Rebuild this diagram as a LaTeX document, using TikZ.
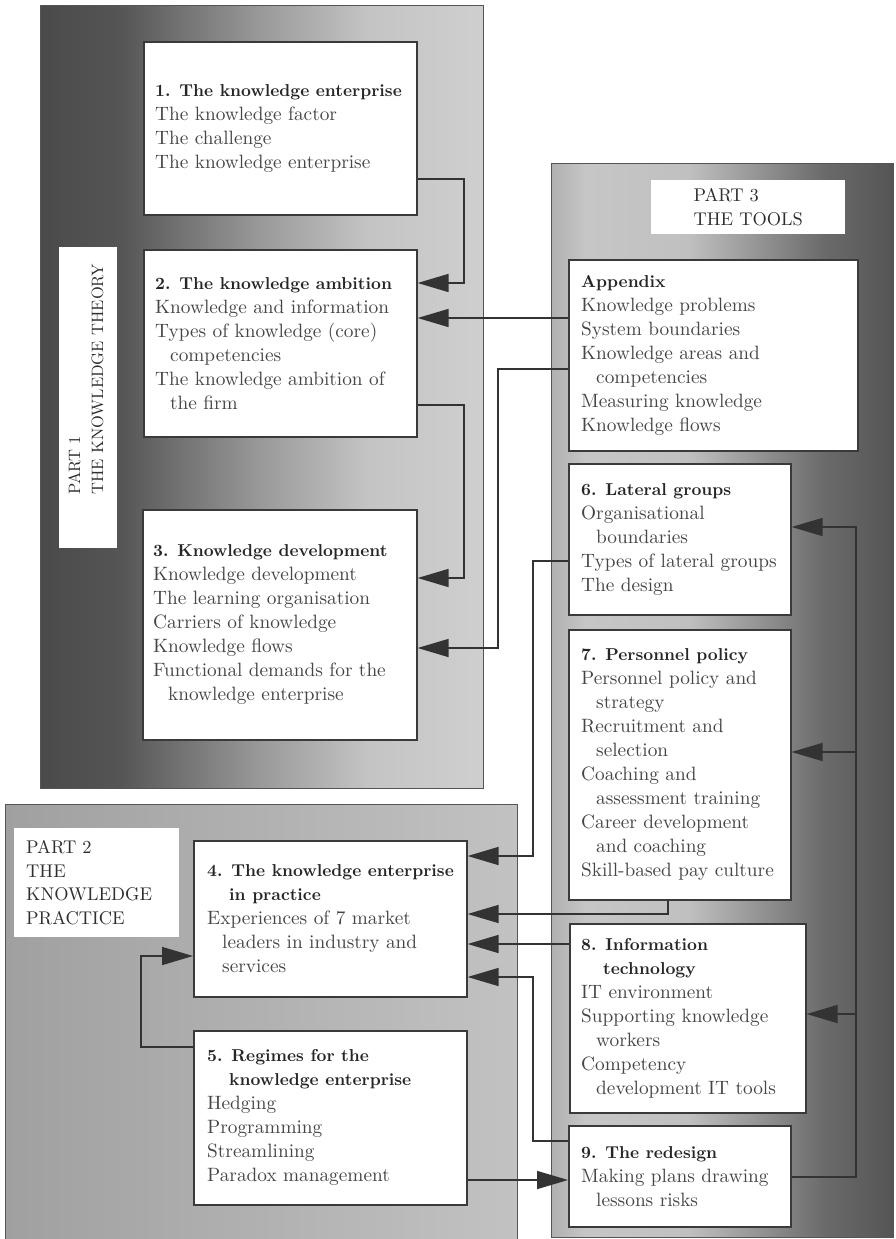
\documentclass[tikz,border=0pt]{standalone}
\usepackage{fontspec}
\setmainfont{lmroman10-regular.otf}[BoldFont=lmroman10-bold.otf]
\usetikzlibrary{arrows.meta}
\definecolor{boxc}{HTML}{3A3A3A}
\definecolor{connc}{HTML}{333333}
\definecolor{bodyc}{HTML}{454545}
\definecolor{titlec}{HTML}{262626}
\definecolor{lblc}{HTML}{2E2E2E}
\definecolor{panelc}{HTML}{555555}
\definecolor{pAa}{HTML}{4A4A4A}
\definecolor{pAb}{HTML}{555555}
\definecolor{pAc}{HTML}{9A9A9A}
\definecolor{pAd}{HTML}{C4C4C4}
\definecolor{pAe}{HTML}{CFCFCF}
\definecolor{pCa}{HTML}{B0B0B0}
\definecolor{pCb}{HTML}{C6C6C6}
\definecolor{pCc}{HTML}{C0C0C0}
\definecolor{pCd}{HTML}{959595}
\definecolor{pCe}{HTML}{6A6A6A}
\definecolor{pCf}{HTML}{555555}
\definecolor{pBa}{HTML}{A0A0A0}
\definecolor{pBb}{HTML}{C2C2C2}
\pgfdeclarehorizontalshading{partone}{100bp}{color(0bp)=(pAa); color(25bp)=(pAa); color(34bp)=(pAb); color(50bp)=(pAc); color(62bp)=(pAd); color(75bp)=(pAe); color(100bp)=(pAe)}
\pgfdeclarehorizontalshading{partthree}{100bp}{color(0bp)=(pCa); color(25bp)=(pCa); color(30bp)=(pCb); color(45bp)=(pCc); color(55bp)=(pCd); color(65bp)=(pCe); color(75bp)=(pCf); color(100bp)=(pCf)}
\newcommand\ktitle[1]{{\bfseries\fontsize{17.2}{24}\selectfont\color{titlec}#1}}
\newcommand\kin{\hspace*{15pt}}
\tikzset{
  panel/.style={draw=panelc, line width=0.8pt, anchor=north west, inner sep=0pt},
  kbox/.style={draw=boxc, line width=1.6pt, fill=white, anchor=north west, inner sep=0pt},
  ktxt/.style={anchor=west, align=left, inner sep=0pt, text=bodyc, font=\fontsize{19.3}{24}\selectfont},
  lblbox/.style={fill=white, anchor=north west, text=lblc, font=\fontsize{18.4}{23.5}\selectfont},
  conn/.style={draw=connc, line width=1.5pt, -{Triangle[length=31pt,width=18pt]}},
  bus/.style={draw=connc, line width=1.5pt}
}
\begin{document}
\begin{tikzpicture}[x=1pt,y=1pt]
\useasboundingbox (0,0) rectangle (895,-1239);
\fill[white] (0,0) rectangle (895,-1239);
% panels
\node[panel, shade, shading=partone, minimum width=443pt, minimum height=783pt] (part1) at (40,-5) {};
\node[panel, left color=pBa, right color=pBb, minimum width=512pt, minimum height=435pt] (part2) at (5,-804) {};
\node[panel, shade, shading=partthree, minimum width=342pt, minimum height=1074pt] (part3) at (551,-163) {};
% labels
\node[lblbox, minimum width=58pt, minimum height=301pt] (l1) at (59,-247) {};
\node[anchor=west, align=left, rotate=90, inner sep=0pt, text=lblc, font=\fontsize{16.5}{23}\selectfont] (l1t) at (86,-495) {PART 1\\THE KNOWLEDGE THEORY};
\node[lblbox, text width=141pt, inner xsep=12pt, minimum height=109pt, align=left] (l2) at (14,-828) {PART 2\\THE\\KNOWLEDGE\\PRACTICE};
\node[lblbox, minimum width=194pt, minimum height=54pt, align=left] (l3) at (651,-180) {PART 3\\THE TOOLS};
% boxes
\node[kbox, minimum width=273pt, minimum height=173pt] (b1) at (143,-41) {};
\node[kbox, minimum width=273pt, minimum height=187pt] (b2) at (143,-249) {};
\node[kbox, minimum width=274pt, minimum height=230pt] (b3) at (142,-509) {};
\node[kbox, minimum width=273pt, minimum height=156pt] (b4) at (193,-840) {};
\node[kbox, minimum width=273pt, minimum height=174pt] (b5) at (193,-1030) {};
\node[kbox, minimum width=289pt, minimum height=191pt] (ba) at (568,-259) {};
\node[kbox, minimum width=222pt, minimum height=151pt] (b6) at (568,-463) {};
\node[kbox, minimum width=222pt, minimum height=270pt] (b7) at (568,-629) {};
\node[kbox, minimum width=236pt, minimum height=189pt] (b8) at (569,-923) {};
\node[kbox, minimum width=222pt, minimum height=101pt] (b9) at (568,-1125) {};
% texts
\node[ktxt] (t1) at ([xshift=12pt]b1.west) {\ktitle{1. The knowledge enterprise}\\The knowledge factor\\The challenge\\The knowledge enterprise};
\node[ktxt] (t2) at ([xshift=12pt]b2.west) {\ktitle{2. The knowledge ambition}\\Knowledge and information\\Types of knowledge (core)\\\kin competencies\\The knowledge ambition of\\\kin the firm};
\node[ktxt] (t3) at ([xshift=11pt]b3.west) {\ktitle{3. Knowledge development}\\Knowledge development\\The learning organisation\\Carriers of knowledge\\Knowledge flows\\Functional demands for the\\\kin knowledge enterprise};
\node[ktxt] (t4) at ([xshift=14pt]b4.west) {\ktitle{4. The knowledge enterprise}\\\ktitle{\hspace*{22pt}in practice}\\Experiences of 7 market\\\kin leaders in industry and\\\kin services};
\node[ktxt] (t5) at ([xshift=14pt]b5.west) {\ktitle{5. Regimes for the}\\\ktitle{\hspace*{22pt}knowledge enterprise}\\Hedging\\Programming\\Streamlining\\Paradox management};
\node[ktxt] (ta) at ([xshift=13pt]ba.west) {\ktitle{Appendix}\\Knowledge problems\\System boundaries\\Knowledge areas and\\\kin competencies\\Measuring knowledge\\Knowledge flows};
\node[ktxt] (t6) at ([xshift=13pt]b6.west) {\ktitle{6. Lateral groups}\\Organisational\\\kin boundaries\\Types of lateral groups\\The design};
\node[ktxt] (t7) at ([xshift=13pt]b7.west) {\ktitle{7. Personnel policy}\\Personnel policy and\\\kin strategy\\Recruitment and\\\kin selection\\Coaching and\\\kin assessment training\\Career development\\\kin and coaching\\Skill-based pay culture};
\node[ktxt] (t8) at ([xshift=12pt]b8.west) {\ktitle{8. Information}\\\ktitle{\hspace*{22pt}technology}\\IT environment\\Supporting knowledge\\\kin workers\\Competency\\\kin development IT tools};
\node[ktxt] (t9) at ([xshift=13pt]b9.west) {\ktitle{9. The redesign}\\Making plans drawing\\\kin lessons risks};
% connectors
\draw[conn] (b1.east |- 0,-179) -| (464,-283) -- (b2.east |- 0,-283);
\draw[conn] (ba.west |- 0,-318) -- (b2.east |- 0,-318);
\draw[conn] (ba.west |- 0,-369) -| (498,-648) -- (b3.east |- 0,-648);
\draw[conn] (b2.east |- 0,-405) -| (464,-578) -- (b3.east |- 0,-578);
\draw[conn] (b6.west |- 0,-561) -| (533,-856) -- (b4.east |- 0,-856);
\draw[conn] (b7.south -| 668,0) |- (b4.east |- 0,-914);
\draw[conn] (b8.west |- 0,-944) -- (b4.east |- 0,-944);
\draw[conn] (b9.west |- 0,-1141) -| (533,-977) -- (b4.east |- 0,-977);
\draw[conn] (b5.east |- 0,-1180) -- (b9.west |- 0,-1180);
\draw[conn] (b5.west |- 0,-1047) -| (141,-956) -- (b4.west |- 0,-956);
\draw[conn] (b9.east |- 0,-1177) -| (856,-527) -- (b6.east |- 0,-527);
\coordinate (bus7) at (856,-752);
\coordinate (bus8) at (856,-1014);
\draw[conn] (bus7) -- (b7.east |- bus7);
\draw[conn] (bus8) -- (b8.east |- bus8);
\end{tikzpicture}
\end{document}
